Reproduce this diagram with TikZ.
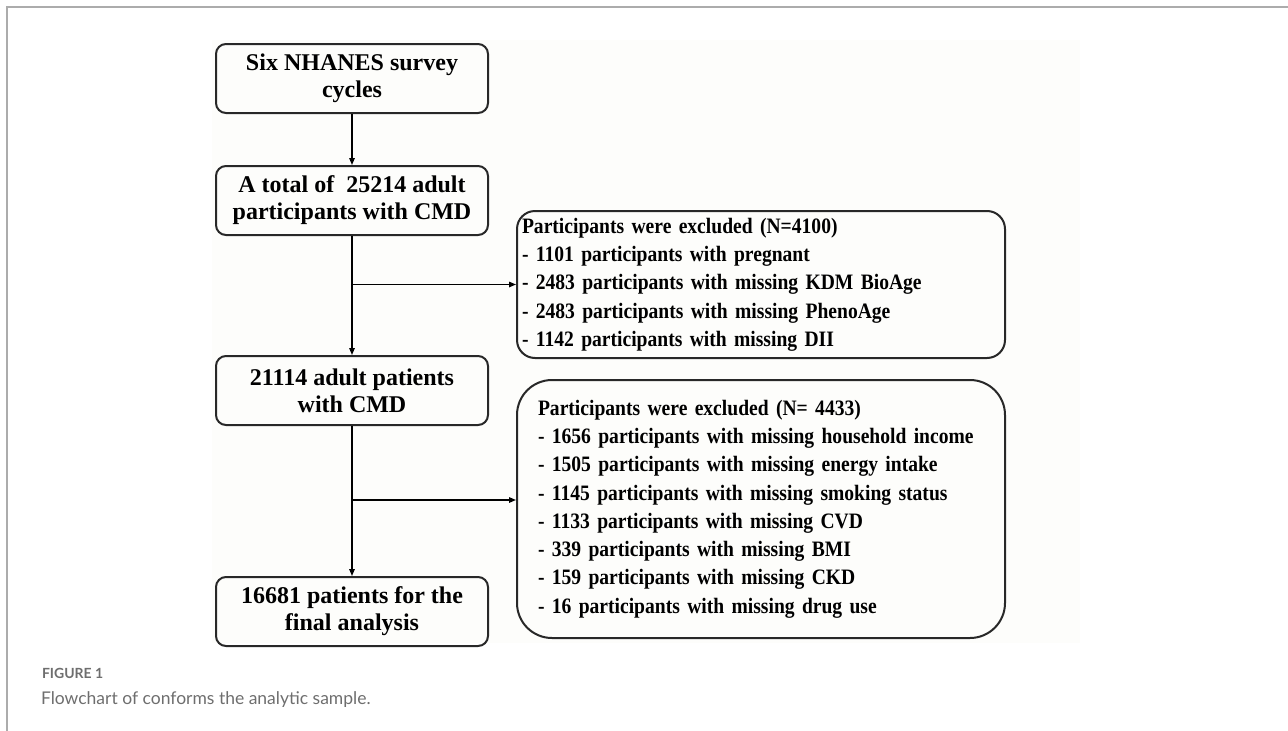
\documentclass[tikz,border=0pt]{standalone}
\usepackage{fontspec}
\setmainfont{Liberation Serif}
\newfontfamily\narrowserif[FakeStretch=0.89]{Liberation Serif}
\newfontfamily\capfont{Lato}
\usetikzlibrary{positioning}
\usetikzlibrary{arrows.meta}
\definecolor{framegray}{RGB}{172,172,172}
\definecolor{bgtint}{RGB}{253,253,251}
\definecolor{boxline}{RGB}{40,40,40}
\definecolor{capgray}{RGB}{110,110,110}

\begin{document}
\begin{tikzpicture}[x=1pt,y=-1pt,
    font=\fontsize{24}{27}\selectfont\bfseries,
    node distance=51pt,
    line width=1.4pt,
    >={Triangle[length=7pt,width=5.5pt]}]
    \tikzset{flowbox/.style={shape=rectangle,
        draw=boxline,
        line width=2pt,
        rounded corners=10pt,
        minimum width=272pt,
        minimum height=69pt,
        inner sep=2pt,
        align=center},
      exclbox/.style={shape=rectangle,
        draw=boxline,
        line width=2pt,
        align=left,
        anchor=north west,
        font=\narrowserif\fontsize{22}{28.3}\selectfont\bfseries}}

    \path [use as bounding box] (0,0) rectangle (1288,731);
    \draw[framegray, line width=1.5pt] (7,731) -- (7,7) -- (1288,7);
    \fill[bgtint] (212,40) rectangle (1080,643);

    \node[name=cycles,
      flowbox,
      anchor=north west] at (215,43) {Six NHANES survey\\cycles};

    \node[name=total,
      flowbox,
      below=of cycles] {A total of\ \ 25214 adult\\participants with CMD};

    \node[name=adult,
      flowbox,
      below=119pt of total] {21114 adult patients\\with CMD};

    \node[name=final,
      flowbox,
      below=150pt of adult] {16681 patients for the\\final analysis};

    \node[name=excla,
      exclbox,
      rounded corners=18pt,
      minimum height=147pt,
      text width=478pt,
      inner xsep=5pt,
      inner ysep=0pt] at (516,210) {Participants were excluded (N=4100)\\
      - 1101 participants with pregnant\\
      - 2483 participants with missing KDM BioAge\\
      - 2483 participants with missing PhenoAge\\
      - 1142 participants with missing DII};

    \node[name=exclb,
      exclbox,
      rounded corners=35pt,
      minimum height=258pt,
      text width=446pt,
      inner xsep=21pt,
      inner ysep=0pt] at (516,379) {Participants were excluded (N= 4433)\\
      - 1656 participants with missing household income\\
      - 1505 participants with missing energy intake\\
      - 1145 participants with missing smoking status\\
      - 1133 participants with missing CVD\\
      - 339 participants with missing BMI\\
      - 159 participants with missing CKD\\
      - 16 participants with missing drug use};

    \path (cycles) edge[->] (total);
    \path (total) edge[->] (adult);
    \path (adult) edge[->] (final);
    \draw[->] (total.south |- excla.west) -- (excla.west);
    \draw[->] ([yshift=9pt]exclb.west -| adult.south) -- ([yshift=9pt]exclb.west);

    \node[name=figlabel,
      anchor=base west,
      text=capgray,
      font=\capfont\fontsize{14}{16}\selectfont\bfseries] at (38,678) {FIGURE 1};
    \node[name=figcaption,
      anchor=base west,
      text=capgray,
      font=\capfont\fontsize{17.5}{20}\selectfont] at (37,704) {Flowchart of conforms the analytic sample.};

  \end{tikzpicture}
\end{document}
